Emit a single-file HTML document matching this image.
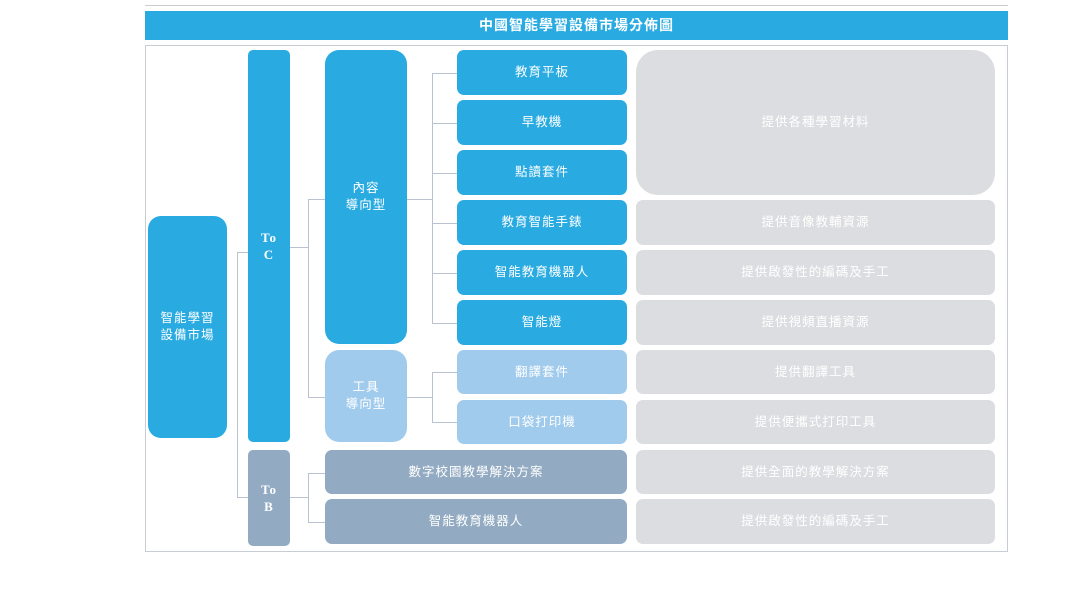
<!DOCTYPE html>
<html><head><meta charset="utf-8"><style>
body{margin:0;width:1080px;height:601px;background:#fff;position:relative;overflow:hidden;font-family:"Liberation Sans","Noto Sans CJK TC",sans-serif;}
.b{position:absolute;display:flex;align-items:center;justify-content:center;text-align:center;color:#fff;font-size:12.5px;line-height:17px;letter-spacing:1px;box-sizing:border-box;}
.blue{background:#29abe2;}
.lb{background:#a1cbec;}
.gb{background:#93abc2;}
.gr{background:#dcdde0;}
.l{position:absolute;background:#b9c2d0;}
.s{font-family:"Liberation Serif",serif;font-weight:bold;font-size:13px;line-height:17px;}
</style></head><body>
<div style="position:absolute;left:145px;top:5px;width:863px;height:1px;background:#ccc"></div>
<div class="b blue" style="left:145px;top:11px;width:863px;height:29px;font-weight:bold;font-size:14px;">中國智能學習設備市場分佈圖</div>
<div style="position:absolute;left:145px;top:45px;width:863px;height:507px;border:1.5px solid #c8ccd4;box-sizing:border-box"></div>

<div class="b blue" style="left:148px;top:216px;width:79px;height:222px;border-radius:13px">智能學習<br>設備市場</div>
<div class="b blue s" style="left:248px;top:50px;width:42px;height:392px;border-radius:5px">To<br>C</div>
<div class="b gb s" style="left:248px;top:450px;width:42px;height:96px;border-radius:5px">To<br>B</div>
<div class="b blue" style="left:325px;top:50px;width:82px;height:294px;border-radius:14px">內容<br>導向型</div>
<div class="b lb" style="left:325px;top:350px;width:82px;height:92px;border-radius:14px">工具<br>導向型</div>

<div class="b blue" style="left:457px;top:50px;width:170px;height:45px;border-radius:7px">教育平板</div>
<div class="b blue" style="left:457px;top:100px;width:170px;height:45px;border-radius:7px">早教機</div>
<div class="b blue" style="left:457px;top:150px;width:170px;height:45px;border-radius:7px">點讀套件</div>
<div class="b blue" style="left:457px;top:200px;width:170px;height:45px;border-radius:7px">教育智能手錶</div>
<div class="b blue" style="left:457px;top:250px;width:170px;height:45px;border-radius:7px">智能教育機器人</div>
<div class="b blue" style="left:457px;top:300px;width:170px;height:45px;border-radius:7px">智能燈</div>
<div class="b lb" style="left:457px;top:350px;width:170px;height:44px;border-radius:7px">翻譯套件</div>
<div class="b lb" style="left:457px;top:400px;width:170px;height:44px;border-radius:7px">口袋打印機</div>
<div class="b gb" style="left:325px;top:450px;width:302px;height:44px;border-radius:7px">數字校園教學解決方案</div>
<div class="b gb" style="left:325px;top:499px;width:302px;height:45px;border-radius:7px">智能教育機器人</div>

<div class="b gr" style="left:636px;top:50px;width:359px;height:145px;border-radius:22px">提供各種學習材料</div>
<div class="b gr" style="left:636px;top:200px;width:359px;height:45px;border-radius:7px">提供音像教輔資源</div>
<div class="b gr" style="left:636px;top:250px;width:359px;height:45px;border-radius:7px">提供啟發性的編碼及手工</div>
<div class="b gr" style="left:636px;top:300px;width:359px;height:45px;border-radius:7px">提供視頻直播資源</div>
<div class="b gr" style="left:636px;top:350px;width:359px;height:44px;border-radius:7px">提供翻譯工具</div>
<div class="b gr" style="left:636px;top:400px;width:359px;height:44px;border-radius:7px">提供便攜式打印工具</div>
<div class="b gr" style="left:636px;top:450px;width:359px;height:44px;border-radius:7px">提供全面的教學解決方案</div>
<div class="b gr" style="left:636px;top:499px;width:359px;height:45px;border-radius:7px">提供啟發性的編碼及手工</div>

<!-- connectors -->
<div class="l" style="left:237px;top:252px;width:1px;height:246px"></div>
<div class="l" style="left:237px;top:252px;width:11px;height:1px"></div>
<div class="l" style="left:237px;top:497px;width:11px;height:1px"></div>
<div class="l" style="left:290px;top:247px;width:18px;height:1px"></div>
<div class="l" style="left:308px;top:199px;width:1px;height:199px"></div>
<div class="l" style="left:308px;top:199px;width:17px;height:1px"></div>
<div class="l" style="left:308px;top:397px;width:17px;height:1px"></div>
<div class="l" style="left:407px;top:199px;width:25px;height:1px"></div>
<div class="l" style="left:432px;top:73px;width:1px;height:250px"></div>
<div class="l" style="left:432px;top:73px;width:25px;height:1px"></div>
<div class="l" style="left:432px;top:123px;width:25px;height:1px"></div>
<div class="l" style="left:432px;top:173px;width:25px;height:1px"></div>
<div class="l" style="left:432px;top:223px;width:25px;height:1px"></div>
<div class="l" style="left:432px;top:273px;width:25px;height:1px"></div>
<div class="l" style="left:432px;top:323px;width:25px;height:1px"></div>
<div class="l" style="left:407px;top:397px;width:25px;height:1px"></div>
<div class="l" style="left:432px;top:372px;width:1px;height:51px"></div>
<div class="l" style="left:432px;top:372px;width:25px;height:1px"></div>
<div class="l" style="left:432px;top:422px;width:25px;height:1px"></div>
<div class="l" style="left:290px;top:497px;width:18px;height:1px"></div>
<div class="l" style="left:308px;top:473px;width:1px;height:50px"></div>
<div class="l" style="left:308px;top:473px;width:17px;height:1px"></div>
<div class="l" style="left:308px;top:522px;width:17px;height:1px"></div>
</body></html>
